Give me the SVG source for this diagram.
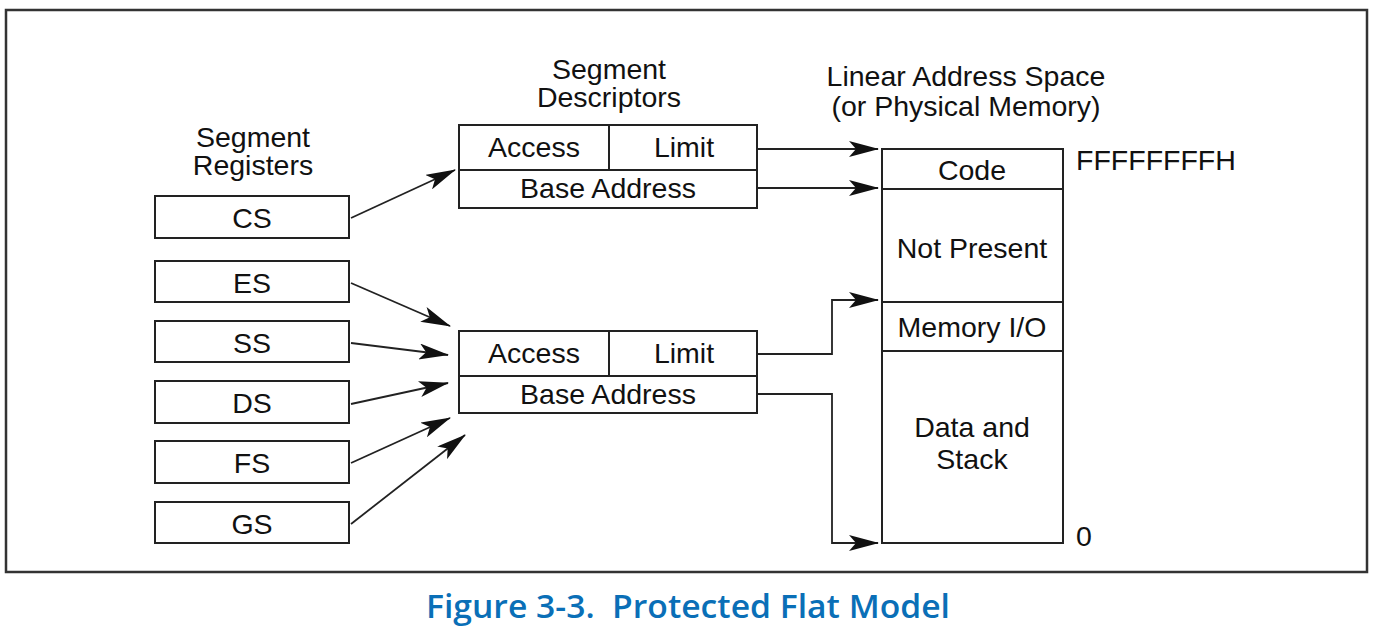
<svg xmlns="http://www.w3.org/2000/svg" width="1376" height="636" viewBox="0 0 1376 636">
<defs>
<marker id="ah" markerUnits="userSpaceOnUse" markerWidth="30" markerHeight="16" viewBox="0 0 30 16" refX="29" refY="8" orient="auto">
<path d="M0,0 L30,8 L0,16 L7,8 Z" fill="#111"/>
</marker>
<style>
.b{fill:#fff;stroke:#222;stroke-width:2}
.l{fill:none;stroke:#222;stroke-width:2}
.t{font-family:"Liberation Sans",Arial,sans-serif;font-size:28.5px;fill:#111;text-anchor:middle}
.c{fill:none;stroke:#222;stroke-width:1.8;marker-end:url(#ah)}
</style>
</defs>
<rect x="0" y="0" width="1376" height="636" fill="#fff"/>
<rect x="6" y="10" width="1361" height="562" fill="none" stroke="#333" stroke-width="2.5"/>

<g id="titles">
<text class="t" x="253" y="147">Segment</text>
<text class="t" x="253" y="175">Registers</text>
<text class="t" x="609" y="79">Segment</text>
<text class="t" x="609" y="107">Descriptors</text>
<text class="t" x="966" y="86">Linear Address Space</text>
<text class="t" x="966" y="116">(or Physical Memory)</text>
</g>

<g id="reg-cs"><rect class="b" x="155" y="196" width="194" height="42"/><text class="t" x="252" y="228">CS</text></g>
<g id="reg-es"><rect class="b" x="155" y="261" width="194" height="41"/><text class="t" x="252" y="293">ES</text></g>
<g id="reg-ss"><rect class="b" x="155" y="321" width="194" height="41"/><text class="t" x="252" y="353">SS</text></g>
<g id="reg-ds"><rect class="b" x="155" y="381" width="194" height="42"/><text class="t" x="252" y="413">DS</text></g>
<g id="reg-fs"><rect class="b" x="155" y="441" width="194" height="42"/><text class="t" x="252" y="473">FS</text></g>
<g id="reg-gs"><rect class="b" x="155" y="502" width="194" height="41"/><text class="t" x="252" y="534">GS</text></g>

<g id="desc1">
<rect class="b" x="459" y="125" width="298" height="83"/>
<line class="l" x1="459" y1="170" x2="757" y2="170"/>
<line class="l" x1="609" y1="125" x2="609" y2="170"/>
<text class="t" x="534" y="157">Access</text>
<text class="t" x="684" y="157">Limit</text>
<text class="t" x="608" y="198">Base Address</text>
</g>

<g id="desc2">
<rect class="b" x="459" y="331" width="298" height="82"/>
<line class="l" x1="459" y1="376" x2="757" y2="376"/>
<line class="l" x1="609" y1="331" x2="609" y2="376"/>
<text class="t" x="534" y="363">Access</text>
<text class="t" x="684" y="363">Limit</text>
<text class="t" x="608" y="404">Base Address</text>
</g>

<g id="memory">
<rect class="b" x="882" y="149" width="181" height="394"/>
<line class="l" x1="882" y1="189" x2="1063" y2="189"/>
<line class="l" x1="882" y1="302" x2="1063" y2="302"/>
<line class="l" x1="882" y1="351" x2="1063" y2="351"/>
<text class="t" x="972" y="180">Code</text>
<text class="t" x="972" y="258">Not Present</text>
<text class="t" x="972" y="337">Memory I/O</text>
<text class="t" x="972" y="437">Data and</text>
<text class="t" x="972" y="469">Stack</text>
<text class="t" x="1076" y="170" style="text-anchor:start">FFFFFFFFH</text>
<text class="t" x="1076" y="546" style="text-anchor:start">0</text>
</g>

<g id="connectors">
<line class="c" x1="351" y1="218" x2="455" y2="170"/>
<line class="c" x1="351" y1="283" x2="450" y2="326"/>
<line class="c" x1="351" y1="343" x2="448" y2="355"/>
<line class="c" x1="351" y1="404" x2="448" y2="383"/>
<line class="c" x1="351" y1="463" x2="450" y2="418"/>
<line class="c" x1="351" y1="524" x2="465" y2="435"/>
<line class="c" x1="757" y1="149" x2="878" y2="149"/>
<line class="c" x1="757" y1="188" x2="878" y2="188"/>
<polyline class="c" points="757,354 832,354 832,300 878,300"/>
<polyline class="c" points="757,394 832,394 832,543 878,543"/>
</g>

<text x="688" y="618" style="font-family:'Open Sans','Noto Sans',sans-serif;font-size:32px;font-weight:600;fill:#0a6fb7;text-anchor:middle" textLength="524" lengthAdjust="spacingAndGlyphs">Figure 3-3.&#160; Protected Flat Model</text>
</svg>
